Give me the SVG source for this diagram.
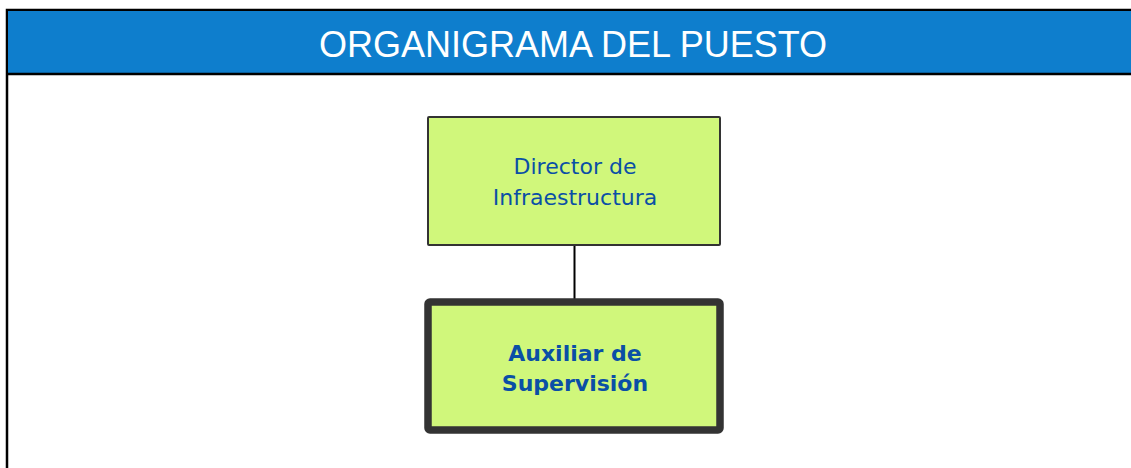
<svg xmlns="http://www.w3.org/2000/svg" width="1131" height="468" viewBox="0 0 1131 468">
<style>
.node{fill:#d0f77b;}
.lbl{font-family:"DejaVu Sans",Verdana,sans-serif;font-size:22px;fill:#0a4fa6;text-anchor:middle;}
.bold{font-weight:bold;}
</style>
<rect x="0" y="0" width="1131" height="468" fill="#ffffff"/>
<g id="frame">
<rect x="7" y="10" width="1140" height="470" fill="#ffffff" stroke="#000" stroke-width="2.5"/>
<rect x="8" y="11" width="1130" height="63" fill="#0e7ecd"/>
<line x1="7" y1="74" x2="1131" y2="74" stroke="#000" stroke-width="2.5"/>
<text x="573" y="57" font-family="'Liberation Sans',Arial,sans-serif" font-size="36" fill="#ffffff" text-anchor="middle">ORGANIGRAMA DEL PUESTO</text>
</g>
<g id="connectors">
<line x1="574.5" y1="245" x2="574.5" y2="300" stroke="#000" stroke-width="2"/>
</g>
<g id="director">
<rect class="node" x="428" y="117" width="292" height="128" stroke="#333" stroke-width="2" rx="1"/>
<text class="lbl" x="575" y="174">Director de</text>
<text class="lbl" x="575" y="205">Infraestructura</text>
</g>
<g id="auxiliar">
<rect class="node" x="428" y="302" width="292" height="128" stroke="#333" stroke-width="7.5" rx="2"/>
<text class="lbl bold" x="575" y="361">Auxiliar de</text>
<text class="lbl bold" x="575" y="391">Supervisión</text>
</g>
</svg>
